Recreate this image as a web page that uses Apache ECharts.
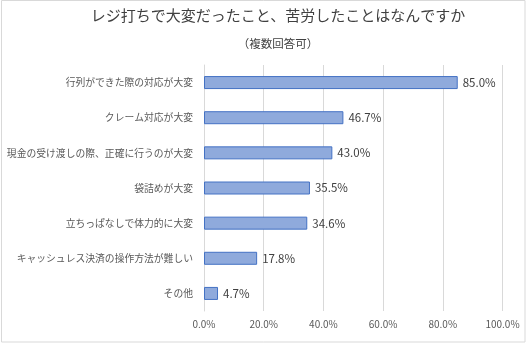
<!DOCTYPE html>
<html><head><meta charset="utf-8">
<script src="https://cdn.jsdelivr.net/npm/echarts@6/dist/echarts.min.js"></script>
<style>html,body{margin:0;padding:0;background:#fff}#c{width:527px;height:344px}</style>
</head><body><div id="c"></div>
<script>
const categories = ["行列ができた際の対応が大変","クレーム対応が大変","現金の受け渡しの際、正確に行うのが大変","袋詰めが大変","立ちっぱなしで体力的に大変","キャッシュレス決済の操作方法が難しい","その他"];
const values = [85.0, 46.7, 43.0, 35.5, 34.6, 17.8, 4.7];
const titleText = "レジ打ちで大変だったこと、苦労したことはなんですか";
const subtitleText = "（複数回答可）";
const FONT = '"Noto Sans CJK JP", sans-serif';
const chart = echarts.init(document.getElementById('c'));
chart.setOption({
  animation: false,
  graphic: [{type:'rect', shape:{x:1.5,y:0.5,width:523.5,height:341.5}, style:{fill:'none', stroke:'#d9d9d9', lineWidth:1}, silent:true}],
  title: {text: titleText, subtext: subtitleText, left: 273, textAlign:'center', top: 3, itemGap: 15,
    textStyle:{fontFamily:FONT, fontSize:15, fontWeight:'normal', color:'#404040'},
    subtextStyle:{fontFamily:FONT, fontSize:11.5, color:'#404040'}},
  grid: {left:204, right:24.5, top:65, bottom:33, containLabel:false, outerBoundsMode:'none'},
  xAxis: {type:'value', min:0, max:100, interval:20,
    axisLabel:{formatter: v => v.toFixed(1)+'%', fontFamily:FONT, fontSize:10, color:'#595959', margin:8},
    splitLine:{lineStyle:{color:'#d9d9d9'}}, axisLine:{show:false}, axisTick:{show:false}},
  yAxis: {type:'category', data: categories, inverse:true,
    axisLabel:{fontFamily:FONT, fontSize:9.8, color:'#595959', margin:11},
    axisLine:{lineStyle:{color:'#d9d9d9'}}, axisTick:{show:false}},
  series: [{type:'bar', data: values, barWidth:13,
    itemStyle:{color:'#8faadc', borderColor:'#4472c4', borderWidth:1},
    label:{show:true, position:'right', distance:5, formatter: p => p.value.toFixed(1)+'%', fontFamily:FONT, fontSize:11.5, color:'#404040'}}]
});
</script></body></html>
